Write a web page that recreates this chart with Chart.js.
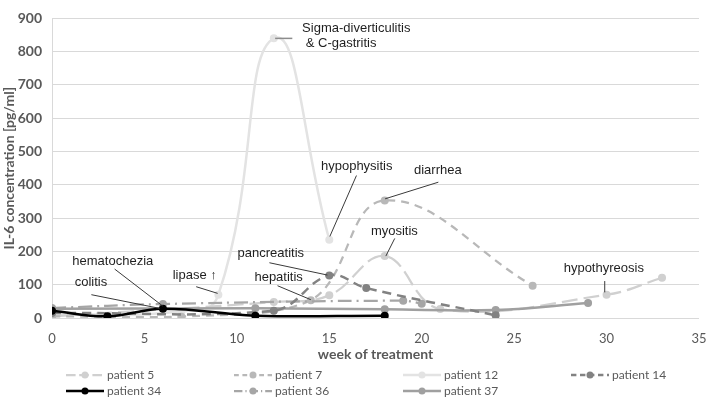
<!DOCTYPE html>
<html>
<head>
<meta charset="utf-8">
<script src="https://cdn.jsdelivr.net/npm/chart.js@4.4.1/dist/chart.umd.min.js"></script>
<style>
  html, body { margin: 0; padding: 0; background: #fff; }
  #wrap { width: 707px; height: 400px; }
</style>
</head>
<body>
<div id="wrap"><canvas id="chart" width="707" height="400"></canvas></div>
<script>
// weeks of treatment and IL-6 values [pg/ml]
const p5Weeks = [0, 12, 15, 18, 21, 30, 33];
const p5Vals = [5, 48, 68, 186, 27, 70, 121];
const p7Weeks = [0, 7, 14, 18, 26];
const p7Vals = [5, 4, 53, 353, 97];
const p12Weeks = [0, 7, 9, 12, 15];
const p12Vals = [10, 20, 70, 840, 235];
const p14Weeks = [0, 12, 15, 17, 24];
const p14Vals = [15, 22, 128, 90, 8];
const p34Weeks = [0, 3, 6, 11, 18];
const p34Vals = [22, 5, 28, 7, 7];
const p36Weeks = [0, 6, 19, 20];
const p36Vals = [30, 42, 52, 43];
const p37Weeks = [0, 11, 18, 24, 29];
const p37Vals = [28, 29, 26, 24, 45];

const xTicks = [0, 5, 10, 15, 20, 25, 30, 35];
const yTicks = [0, 100, 200, 300, 400, 500, 600, 700, 800, 900];

// annotation labels: text anchor (week, value), leader from -> to
const notes = [
  { text: ['Sigma-diverticulitis', ' & C-gastritis'], at: [13.53, 871], from: [12.07, 840], to: [13.0, 840], light: true },
  { text: ['hypophysitis'], at: [14.55, 455], from: [16.47, 428], to: [15.03, 245] },
  { text: ['diarrhea'], at: [19.58, 442], from: [20.9, 408], to: [18.02, 358] },
  { text: ['myositis'], at: [17.25, 261], from: [18.54, 239], to: [18.06, 186] },
  { text: ['hypothyreosis'], at: [27.68, 150], from: [29.9, 111], to: [29.9, 77] },
  { text: ['pancreatitis'], at: [10.04, 195], from: [11.76, 166], to: [14.9, 129] },
  { text: ['hepatitis'], at: [10.95, 121], from: [12.2, 97], to: [14.0, 55] },
  { text: ['lipase \u2191'], at: [6.53, 129], from: [7.8, 94], to: [8.96, 74] },
  { text: ['hematochezia'], at: [1.1, 171], from: [3.39, 147], to: [5.99, 36] },
  { text: ['colitis'], at: [1.23, 106], from: [2.13, 70], to: [5.82, 29] }
];

const AXIS_FONT = "Lato, 'Liberation Sans', Arial, sans-serif";
const SANS = "'Liberation Sans', Arial, sans-serif";

const pts = (weeks, vals) => weeks.map((w, i) => ({ x: w, y: vals[i] }));

function series(label, weeks, vals, color, width, dash, tension) {
  return {
    label,
    data: pts(weeks, vals),
    borderColor: color,
    backgroundColor: color,
    pointBackgroundColor: color,
    pointBorderColor: color,
    pointRadius: 4,
    pointBorderWidth: 0,
    borderWidth: width,
    borderDash: dash,
    tension: tension || 0.4,
    fill: false
  };
}

const datasets = [
  series('patient 5', p5Weeks, p5Vals, '#d0d0d0', 2.25, [16, 6]),
  series('patient 7', p7Weeks, p7Vals, '#b8b8b8', 2.25, [8, 6]),
  series('patient 12', p12Weeks, p12Vals, '#e3e3e3', 2.5, [], 0.5),
  series('patient 14', p14Weeks, p14Vals, '#828282', 2.5, [9, 6]),
  series('patient 34', p34Weeks, p34Vals, '#000000', 2.5, []),
  series('patient 36', p36Weeks, p36Vals, '#a6a6a6', 2.25, [14, 5, 2, 5]),
  series('patient 37', p37Weeks, p37Vals, '#a0a0a0', 2.5, [])
];

// draw order: light lines behind the darker ones
const order = [2, 0, 1, 5, 6, 3, 4];
datasets.forEach((ds, i) => { ds.order = order.length - order.indexOf(i); });

const legendCols = [66, 234, 403, 571];
const legendRows = [375, 391];

const gridLegend = {
  id: 'gridLegend',
  afterDraw(chart) {
    const ctx = chart.ctx;
    chart.data.datasets.forEach((ds, i) => {
      const x = legendCols[i % 4];
      const y = legendRows[Math.floor(i / 4)];
      ctx.save();
      ctx.strokeStyle = ds.borderColor;
      ctx.lineWidth = ds.borderWidth;
      ctx.setLineDash(ds.borderDash.length ? ds.borderDash.map((d) => d * 0.6) : []);
      ctx.beginPath();
      ctx.moveTo(x, y);
      ctx.lineTo(x + 38, y);
      ctx.stroke();
      ctx.setLineDash([]);
      ctx.fillStyle = ds.pointBackgroundColor;
      ctx.beginPath();
      ctx.arc(x + 19, y, 3.5, 0, Math.PI * 2);
      ctx.fill();
      ctx.fillStyle = '#595959';
      ctx.font = '12px ' + AXIS_FONT;
      ctx.textBaseline = 'middle';
      ctx.fillText(ds.label, x + 41, y);
      ctx.restore();
    });
  }
};

const noteLabels = {
  id: 'noteLabels',
  afterDatasetsDraw(chart) {
    const { ctx, scales } = chart;
    const px = (p) => [scales.x.getPixelForValue(p[0]), scales.y.getPixelForValue(p[1])];
    notes.forEach((n) => {
      const a = px(n.from), b = px(n.to);
      ctx.save();
      ctx.strokeStyle = n.light ? '#8c8c8c' : '#3a3a3a';
      ctx.lineWidth = n.light ? 1.5 : 1;
      ctx.beginPath();
      ctx.moveTo(a[0], a[1]);
      ctx.lineTo(b[0], b[1]);
      ctx.stroke();
      const t = px(n.at);
      ctx.fillStyle = '#1f1f1f';
      ctx.font = '13px ' + SANS;
      ctx.textBaseline = 'middle';
      n.text.forEach((line, k) => ctx.fillText(line, t[0], t[1] + k * 15));
      ctx.restore();
    });
  }
};

new Chart(document.getElementById('chart'), {
  type: 'line',
  data: { datasets },
  options: {
    responsive: false,
    animation: false,
    layout: { padding: { left: 0, right: 8, top: 8, bottom: 37 } },
    plugins: { legend: { display: false }, tooltip: { enabled: false } },
    scales: {
      x: {
        type: 'linear',
        min: 0,
        max: 35,
        afterBuildTicks: (scale) => { scale.ticks = xTicks.map((v) => ({ value: v })); },
        afterFit: (scale) => {
          scale.height = 45;
          scale.paddingLeft = 0;
          scale.paddingRight = 0;
        },
        ticks: { color: '#595959', font: { family: AXIS_FONT, size: 13 }, padding: 5 },
        grid: { display: false },
        border: { display: false },
        title: {
          display: true,
          text: 'week of treatment',
          color: '#595959',
          font: { family: AXIS_FONT, size: 14, weight: 'bold' },
          padding: { top: 0, bottom: 0 }
        }
      },
      y: {
        min: 0,
        max: 900,
        afterBuildTicks: (scale) => { scale.ticks = yTicks.map((v) => ({ value: v })); },
        afterFit: (scale) => { scale.width = 52; },
        ticks: { color: '#595959', font: { family: AXIS_FONT, size: 14, weight: 'bold' }, padding: 10 },
        grid: { color: '#d9d9d9', lineWidth: 1, drawTicks: false },
        border: { display: true, color: '#d9d9d9' },
        title: {
          display: true,
          text: 'IL-6 concentration [pg/ml]',
          color: '#595959',
          font: { family: AXIS_FONT, size: 14, weight: 'bold' },
          padding: { top: 1, bottom: 0 }
        }
      }
    }
  },
  plugins: [noteLabels, gridLegend]
});
</script>
</body>
</html>
